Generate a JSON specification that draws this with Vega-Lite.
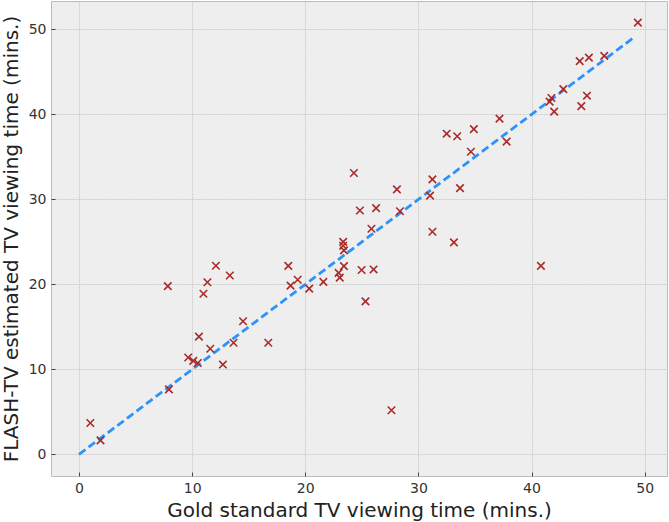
{
  "$schema": "https://vega.github.io/schema/vega-lite/v6.json",
  "width": 616,
  "height": 475,
  "autosize": {"type": "none"},
  "padding": {"left": 51, "top": 1, "right": 2, "bottom": 46},
  "background": "#ffffff",
  "datasets": {
    "pts": [
      {"gold": 1.0, "flash": 3.7}, {"gold": 1.9, "flash": 1.65}, {"gold": 7.85, "flash": 19.8},
      {"gold": 7.95, "flash": 7.65}, {"gold": 9.65, "flash": 11.4}, {"gold": 10.1, "flash": 11.0},
      {"gold": 10.5, "flash": 10.75}, {"gold": 10.6, "flash": 13.85}, {"gold": 11.0, "flash": 18.9},
      {"gold": 11.35, "flash": 20.25}, {"gold": 11.6, "flash": 12.43}, {"gold": 12.1, "flash": 22.2},
      {"gold": 12.72, "flash": 10.57}, {"gold": 13.33, "flash": 21.05}, {"gold": 13.66, "flash": 13.14},
      {"gold": 14.5, "flash": 15.66}, {"gold": 16.73, "flash": 13.14}, {"gold": 18.5, "flash": 22.18},
      {"gold": 18.7, "flash": 19.85}, {"gold": 19.33, "flash": 20.55}, {"gold": 20.35, "flash": 19.5},
      {"gold": 21.6, "flash": 20.3}, {"gold": 22.95, "flash": 21.35}, {"gold": 23.05, "flash": 20.8},
      {"gold": 23.35, "flash": 25.0}, {"gold": 23.35, "flash": 24.55}, {"gold": 23.42, "flash": 24.0},
      {"gold": 23.42, "flash": 22.15}, {"gold": 24.3, "flash": 33.1}, {"gold": 24.83, "flash": 28.7},
      {"gold": 24.98, "flash": 21.7}, {"gold": 25.32, "flash": 18.0}, {"gold": 25.85, "flash": 26.55},
      {"gold": 26.04, "flash": 21.76}, {"gold": 26.26, "flash": 28.98}, {"gold": 27.62, "flash": 5.2},
      {"gold": 28.1, "flash": 31.18}, {"gold": 28.37, "flash": 28.6}, {"gold": 31.03, "flash": 30.45},
      {"gold": 31.24, "flash": 32.35}, {"gold": 31.24, "flash": 26.2}, {"gold": 32.5, "flash": 37.73},
      {"gold": 33.14, "flash": 24.95}, {"gold": 33.43, "flash": 37.43}, {"gold": 33.68, "flash": 31.33},
      {"gold": 34.64, "flash": 35.6}, {"gold": 34.9, "flash": 38.27}, {"gold": 37.17, "flash": 39.5},
      {"gold": 37.8, "flash": 36.8}, {"gold": 40.83, "flash": 22.18}, {"gold": 41.6, "flash": 41.5},
      {"gold": 41.76, "flash": 41.93}, {"gold": 42.0, "flash": 40.33}, {"gold": 42.81, "flash": 42.97},
      {"gold": 44.26, "flash": 46.27}, {"gold": 44.4, "flash": 40.97}, {"gold": 44.9, "flash": 42.2},
      {"gold": 45.07, "flash": 46.68}, {"gold": 46.43, "flash": 46.88}, {"gold": 49.4, "flash": 50.79}
    ],
    "fit": [
      {"gold": 0, "flash": 0}, {"gold": 49, "flash": 49}
    ]
  },
  "layer": [
    {
      "data": {"name": "fit"},
      "mark": {"type": "line", "color": "#2b93fb", "strokeWidth": 2.8, "strokeDash": [8, 4]},
      "encoding": {
        "x": {"field": "gold", "type": "quantitative"},
        "y": {"field": "flash", "type": "quantitative"}
      }
    },
    {
      "data": {"name": "pts"},
      "mark": {"type": "point", "shape": "M-1,-1L1,1M-1,1L1,-1", "filled": false, "stroke": "#a82a2a", "strokeWidth": 1.6, "size": 56, "opacity": 1},
      "encoding": {
        "x": {
          "field": "gold", "type": "quantitative",
          "scale": {"domain": [-2.475, 51.975], "nice": false, "zero": false},
          "axis": {"title": "Gold standard TV viewing time (mins.)", "values": [0, 10, 20, 30, 40, 50], "titleY": 40, "titleBaseline": "alphabetic"}
        },
        "y": {
          "field": "flash", "type": "quantitative",
          "scale": {"domain": [-2.54, 53.34], "nice": false, "zero": false},
          "axis": {"title": "FLASH-TV estimated TV viewing time (mins.)", "values": [0, 10, 20, 30, 40, 50], "titleX": -34, "titleBaseline": "alphabetic"}
        }
      }
    }
  ],
  "config": {
    "font": "DejaVu Sans",
    "view": {"fill": "#eeeeee", "stroke": "#bcbcbc", "strokeWidth": 1},
    "axis": {
      "domain": false,
      "grid": true,
      "gridColor": "#c4c4c4",
      "gridDash": [2, 1],
      "gridWidth": 0.8,
      "ticks": true,
      "tickSize": -4,
      "tickColor": "#444444",
      "tickWidth": 1,
      "labelFont": "DejaVu Sans",
      "labelFontSize": 14,
      "labelColor": "#333333",
      "labelPadding": 9,
      "titleFont": "DejaVu Sans",
      "titleFontSize": 20,
      "titleFontWeight": "normal",
      "titleColor": "#222222"
    }
  }
}
